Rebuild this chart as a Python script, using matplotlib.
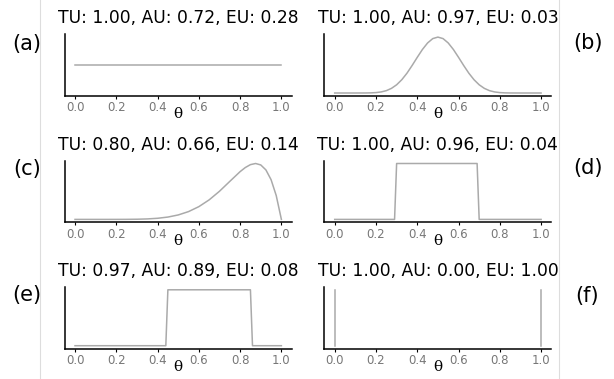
import numpy as np
import matplotlib
matplotlib.use("Agg")
import matplotlib.pyplot as plt
from matplotlib.lines import Line2D

# ---- data ----
titles = [
    "TU: 1.00, AU: 0.72, EU: 0.28",
    "TU: 1.00, AU: 0.97, EU: 0.03",
    "TU: 0.80, AU: 0.66, EU: 0.14",
    "TU: 1.00, AU: 0.96, EU: 0.04",
    "TU: 0.97, AU: 0.89, EU: 0.08",
    "TU: 1.00, AU: 0.00, EU: 1.00",
]
panel_labels = ["(a)", "(b)", "(c)", "(d)", "(e)", "(f)"]

# (a) flat density
a_x = [0.0, 1.0]
a_y = [1.0, 1.0]

# (b) symmetric bump around 0.5
b_x = [0.0, 0.05, 0.1, 0.15, 0.175, 0.2, 0.225, 0.25, 0.275, 0.3, 0.325, 0.35,
       0.375, 0.4, 0.425, 0.45, 0.475, 0.5, 0.525, 0.55, 0.575, 0.6, 0.625,
       0.65, 0.675, 0.7, 0.725, 0.75, 0.775, 0.8, 0.825, 0.85, 0.9, 0.95, 1.0]
b_y = [0.0, 0.0, 0.0, 0.0006, 0.0024, 0.0074, 0.019, 0.042, 0.083, 0.147, 0.2375,
       0.354, 0.4917, 0.638, 0.7785, 0.895, 0.973, 1.0, 0.973, 0.895, 0.7785,
       0.638, 0.4917, 0.354, 0.2375, 0.147, 0.083, 0.042, 0.019, 0.0074, 0.0024,
       0.0006, 0.0, 0.0, 0.0]

# (c) skewed density peaking near 0.875
c_x = [0.0, 0.1, 0.15, 0.2, 0.25, 0.3, 0.35, 0.4, 0.45, 0.5, 0.55, 0.6, 0.65,
       0.7, 0.75, 0.8, 0.825, 0.85, 0.875, 0.9, 0.925, 0.95, 0.975, 1.0]
c_y = [0.0, 0.0, 0.00003, 0.0002, 0.0009, 0.0031, 0.0085, 0.020, 0.0419, 0.0796,
       0.1395, 0.2281, 0.3495, 0.5033, 0.680, 0.8544, 0.9273, 0.9796, 1.0,
       0.9743, 0.8852, 0.711, 0.427, 0.0]

# (d) box on [0.30, 0.69]
d_x = [0.0, 0.29, 0.30, 0.69, 0.70, 1.0]
d_y = [0.0, 0.0, 2.5, 2.5, 0.0, 0.0]

# (e) box on [0.45, 0.85]
e_x = [0.0, 0.44, 0.45, 0.85, 0.86, 1.0]
e_y = [0.0, 0.0, 2.5, 2.5, 0.0, 0.0]

# (f) spikes at both ends
f_x = [0.0, 0.0, np.nan, 1.0, 1.0]
f_y = [0.0, 1.0, np.nan, 0.0, 1.0]

series = [(a_x, a_y), (b_x, b_y), (c_x, c_y), (d_x, d_y), (e_x, e_y), (f_x, f_y)]
xticks = [0.0, 0.2, 0.4, 0.6, 0.8, 1.0]
xticklabels = ["0.0", "0.2", "0.4", "0.6", "0.8", "1.0"]

# ---- figure ----
W, H = 614, 379
fig = plt.figure(figsize=(W / 100, H / 100), dpi=100)

col_left = [64.7, 324.4]
ax_w = 227.0
row_top = [34.3, 160.7, 287.0]
ax_h = 61.5

line_color = "#aaaaaa"

for i, (xs, ys) in enumerate(series):
    r, c = divmod(i, 2)
    left = col_left[c] / W
    bottom = 1 - (row_top[r] + ax_h) / H
    ax = fig.add_axes([left, bottom, ax_w / W, ax_h / H])
    ax.plot(xs, ys, color=line_color, lw=1.1)
    ax.set_xlim(-0.05, 1.05)
    ax.set_xticks(xticks)
    ax.set_xticklabels(xticklabels)
    ax.set_yticks([])
    for s in ["top", "right"]:
        ax.spines[s].set_visible(False)
    for s in ["left", "bottom"]:
        ax.spines[s].set_linewidth(1.1)
        ax.spines[s].set_color("black")
    ax.tick_params(axis="x", length=2, width=0.8, pad=2, labelsize=8.5,
                   labelcolor="#777777", color="black")
    ax.set_xlabel("θ", family="DejaVu Serif", fontsize=11)
    ax.xaxis.set_label_coords(0.5, -0.19)
    ax.set_title(titles[i], fontsize=12.3, pad=8)

label_pos = [(27, 44), (588, 43), (27, 169), (588, 168), (27, 295), (587, 296)]
for lab, (px, py) in zip(panel_labels, label_pos):
    fig.text(px / W, 1 - py / H, lab, ha="center", va="center", fontsize=15)

for px in [40, 559]:
    fig.add_artist(Line2D([px / W, px / W], [0, 1], transform=fig.transFigure,
                          color="#dddddd", lw=0.8))

fig.savefig("out.png", dpi=100)
